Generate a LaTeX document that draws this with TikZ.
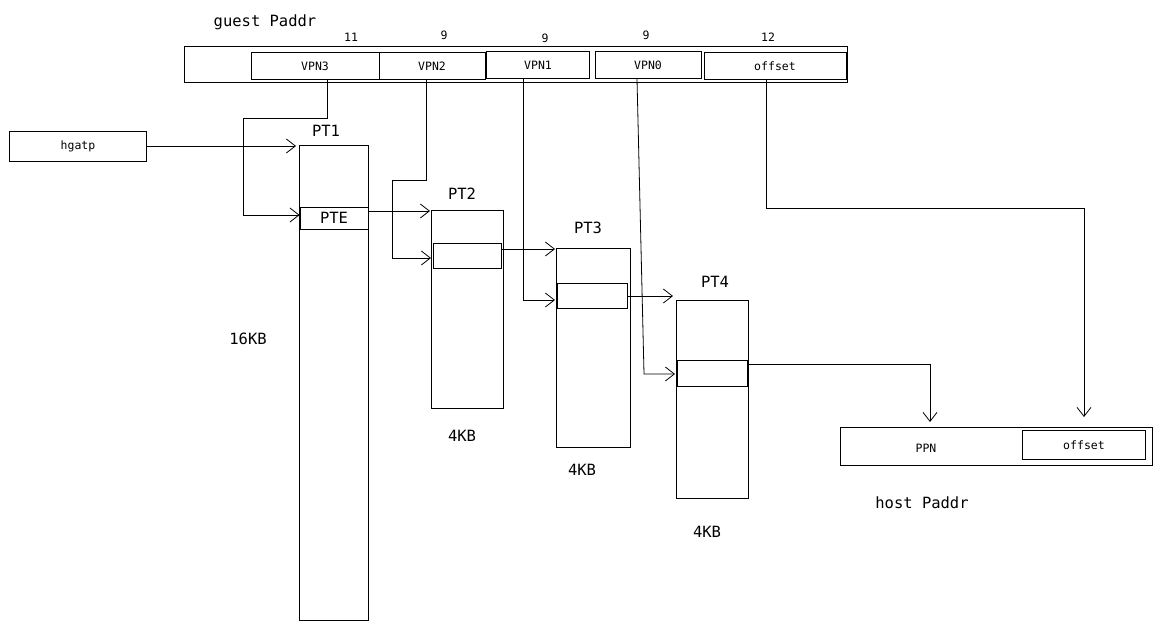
\documentclass[tikz,border=0pt]{standalone}
\usepackage{fontspec}
\setmainfont{DejaVu Sans Mono}
\usetikzlibrary{arrows.meta}
\begin{document}
\begin{tikzpicture}[x=1pt,y=-1pt,
  box/.style={draw,line width=0.8pt},
  ln/.style={draw,line width=0.8pt},
  arr/.style={ln,-{Straight Barb[length=9pt,width=14pt]}},
  sm/.style={font=\fontsize{11.5}{13}\selectfont},
  md/.style={font=\fontsize{15.5}{17}\selectfont}]
\useasboundingbox (0,0) rectangle (1162,630);
% guest Paddr
\node[md] (gp) at (265,22) {guest Paddr};
\draw[box] (184,46) rectangle (847,82);
\node[box,sm,minimum width=128pt,minimum height=27pt] (v3) at (315,66) {VPN3};
\node[box,sm,minimum width=106pt,minimum height=27pt] (v2) at (432,66) {VPN2};
\node[box,sm,minimum width=103pt,minimum height=27pt] (v1) at (538,65) {VPN1};
\node[box,sm,minimum width=106pt,minimum height=27pt] (v0) at (648,65) {VPN0};
\node[box,sm,minimum width=142pt,minimum height=27pt] (of) at (775,66) {offset};
\node[sm] (b3) at (351,37) {11};
\node[sm] (b2) at (444,35) {9};
\node[sm] (b1) at (545,38) {9};
\node[sm] (b0) at (646,35) {9};
\node[sm] (bo) at (768,37) {12};
% hgatp
\node[box,sm,minimum width=137pt,minimum height=30pt] (hg) at (78,146) {hgatp};
% PT1
\draw[box] (299,145) rectangle (368,620);
\node[md] (pt1) at (326,131) {PT1};
\node[box,md,minimum width=68pt,minimum height=22pt,inner sep=0pt] (pte) at (334,218) {PTE};
\node[md] (k16) at (248,339) {16KB};
% PT2
\draw[box] (431,210) rectangle (503,408);
\node[md] (pt2) at (462,194) {PT2};
\node[box,minimum width=68pt,minimum height=25pt,inner sep=0pt] (e2) at (467,256) {};
\node[md] (k2) at (462,436) {4KB};
% PT3
\draw[box] (556,248) rectangle (630,447);
\node[md] (pt3) at (588,228) {PT3};
\node[box,minimum width=70pt,minimum height=25pt,inner sep=0pt] (e3) at (592,296) {};
\node[md] (k3) at (582,470) {4KB};
% PT4
\draw[box] (676,300) rectangle (748,498);
\node[md] (pt4) at (715,282) {PT4};
\node[box,minimum width=70pt,minimum height=26pt,inner sep=0pt] (e4) at (712,373) {};
\node[md] (k4) at (707,532) {4KB};
% host
\draw[box] (840,427) rectangle (1152,465);
\node[sm] (ppn) at (926,448) {PPN};
\node[box,sm,minimum width=123pt,minimum height=29pt] (ho) at (1084,445) {offset};
\node[md] (hp) at (922,503) {host Paddr};
% connectors
\coordinate (t1) at (296,146);
\draw[arr] (hg.east) -- (t1);
\draw[arr] (v3.south -| 327,0) -- (327,118) -- (243,118) -- (243,215) -- (pte.west |- 0,215);
\draw[arr] (pte.east |- 0,211) -- (430,211);
\draw[arr] (v2.south -| 426,0) -- (426,180) -- (392,180) -- (392,258) -- (431,258);
\draw[arr] (e2.east |- 0,249) -- (555,249);
\draw[arr] (v1.south -| 523,0) -- (523,300) -- (555,300);
\draw[arr] (e3.east |- 0,296) -- (673,296);
\draw[arr] (v0.south -| 637,0) -- (644,374) -- (675,374);
\coordinate (p1) at (930,422);
\draw[arr] (e4.east |- 0,364) -- (930,364) -- (p1);
\coordinate (p2) at (1084,417);
\draw[arr] (of.south -| 766,0) -- (766,208) -- (1084,208) -- (p2);
\end{tikzpicture}
\end{document}
